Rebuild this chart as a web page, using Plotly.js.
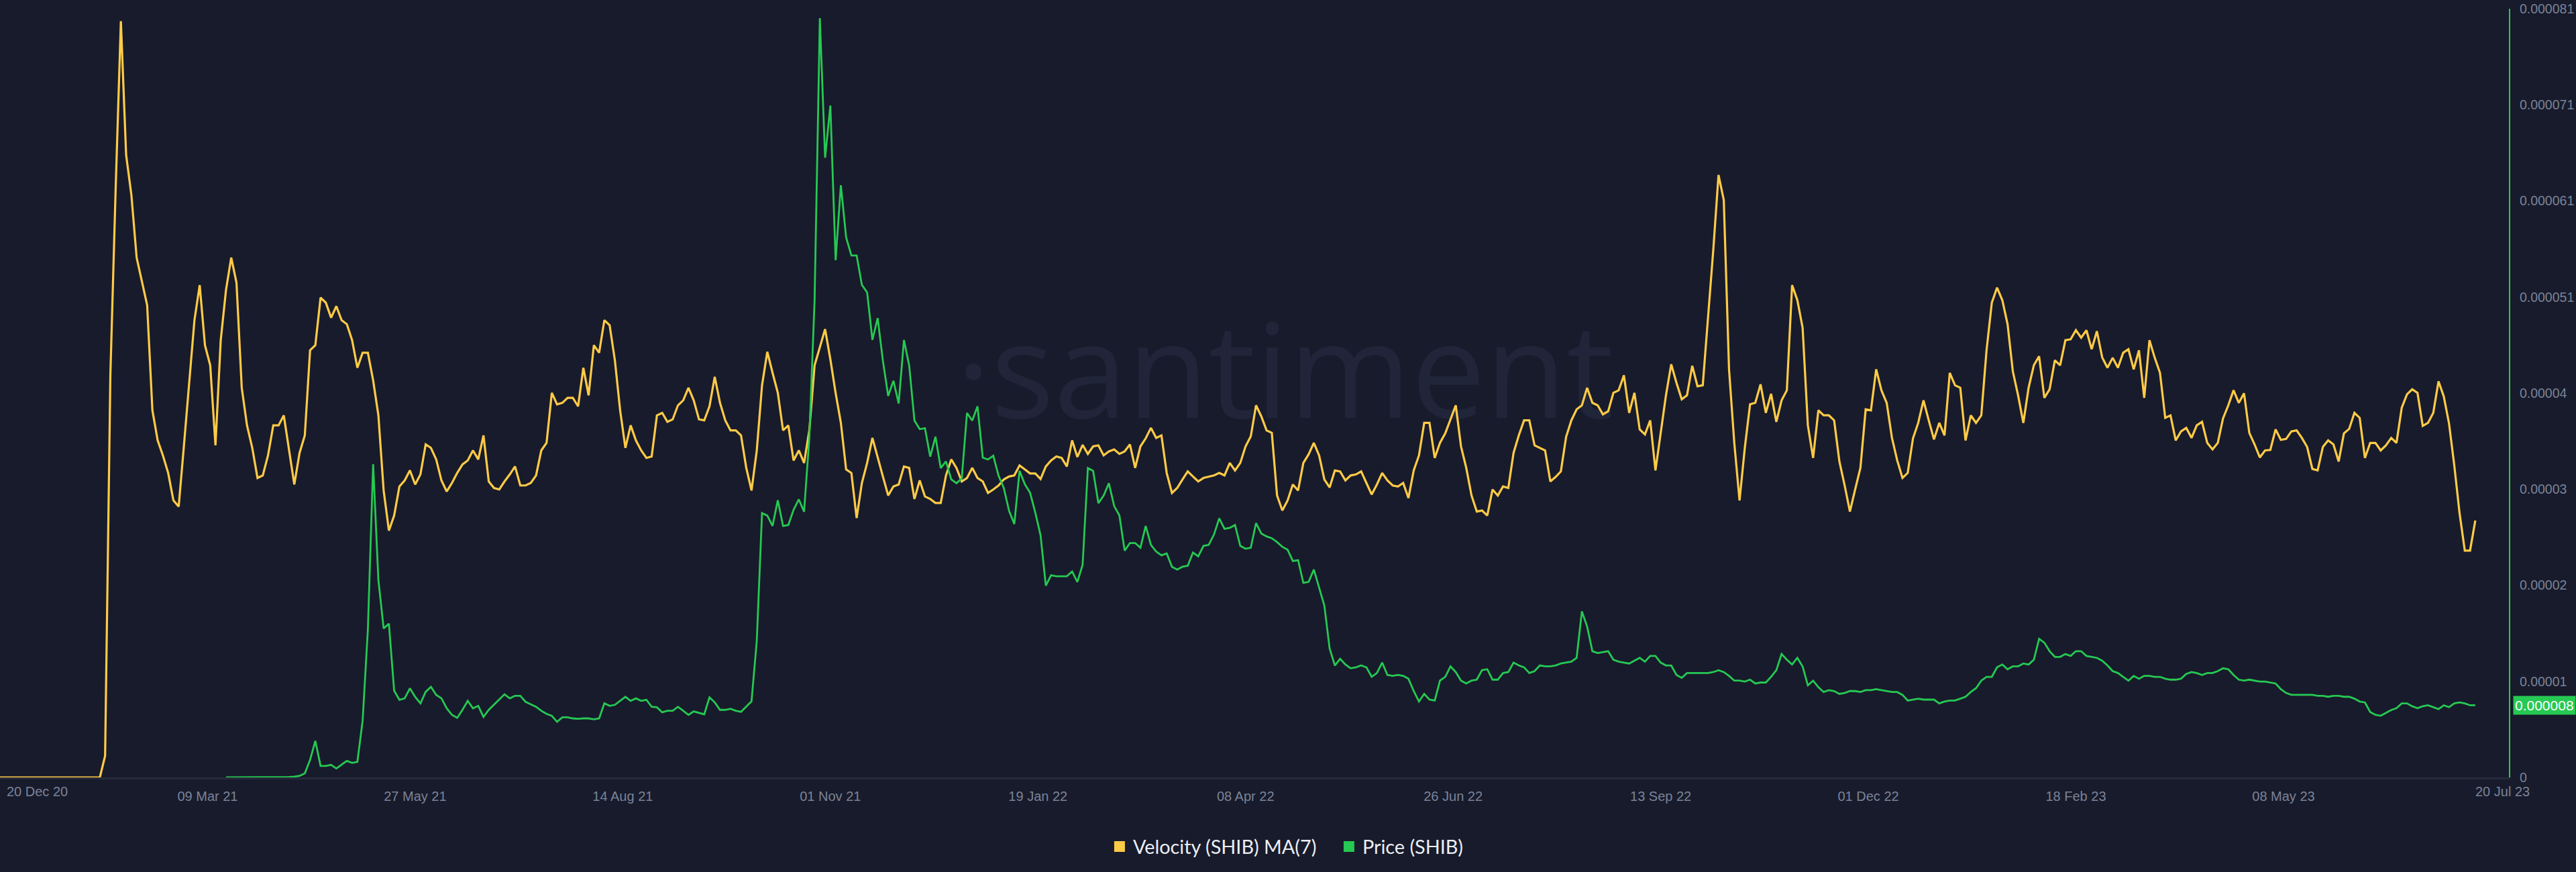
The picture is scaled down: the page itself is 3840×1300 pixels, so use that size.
<!DOCTYPE html>
<html>
<head>
<meta charset="utf-8">
<script src="https://cdn.plot.ly/plotly-3.0.1.min.js"></script>
<style>
  html, body { margin: 0; padding: 0; background: #181b2b; }
  #chart { width: 3840px; height: 1300px; }
</style>
</head>
<body>
<div id="chart"></div>
<script>
// ---------- DATA (one value every 2 days) ----------
// Each segment starts on the date in segmentStarts and steps 2 days.
const segmentStarts = ['2020-12-20', '2021-08-23', '2022-04-26', '2022-12-26'];

// Velocity (SHIB) MA(7) — hidden axis, relative units
const velocityDec20Aug21 = [
  0,0,0,0,0,0,0,0,0,0,0,0,0,0,0,0,0,0,0,0,
  0.043,0.803,1.173,1.510,1.243,1.163,1.038,0.991,0.943,0.733,
  0.673,0.643,0.608,0.553,0.541,0.663,0.783,0.913,0.983,0.863,
  0.823,0.663,0.873,0.973,1.038,0.988,0.778,0.703,0.658,0.598,
  0.603,0.643,0.703,0.703,0.723,0.653,0.585,0.648,0.683,0.853,
  0.863,0.958,0.948,0.918,0.941,0.913,0.905,0.873,0.818,0.848,
  0.848,0.793,0.723,0.573,0.493,0.523,0.581,0.593,0.613,0.585,
  0.605,0.665,0.658,0.635,0.593,0.571,0.588,0.608,0.625,0.633,
  0.653,0.635,0.683,0.591,0.578,0.575,0.591,0.605,0.621,0.583,
  0.583,0.588,0.603,0.653,0.668,0.768,0.745,0.748,0.758,0.758,
  0.741,0.818,0.763,0.863,0.848,0.913,0.903,0.833,0.733,0.658,
  0.703,0.673,0.653
];
const velocityAug21Apr22 = [
  0.638,0.641,0.723,0.728,0.710,0.715,0.743,0.753,0.778,0.753,
  0.715,0.713,0.741,0.800,0.748,0.713,0.693,0.693,0.683,0.618,
  0.573,0.653,0.783,0.850,0.808,0.768,0.693,0.703,0.633,0.653,
  0.628,0.693,0.823,0.861,0.895,0.835,0.768,0.708,0.615,0.608,
  0.518,0.588,0.628,0.678,0.638,0.601,0.563,0.581,0.585,0.621,
  0.618,0.556,0.593,0.561,0.556,0.548,0.548,0.603,0.635,0.618,
  0.591,0.598,0.618,0.598,0.591,0.568,0.575,0.583,0.595,0.601,
  0.603,0.623,0.615,0.607,0.607,0.596,0.621,0.633,0.641,0.638,
  0.621,0.673,0.640,0.664,0.646,0.661,0.663,0.643,0.651,0.655,
  0.646,0.651,0.665,0.618,0.661,0.677,0.698,0.678,0.683,0.608,
  0.568,0.578,0.595,0.611,0.601,0.591,0.598,0.601,0.603,0.608,
  0.603,0.628,0.613,0.628,0.661,0.681,0.743,0.721,0.693,0.688,
  0.563,0.533,0.553
];
const velocityApr22Dec22 = [
  0.585,0.573,0.628,0.645,0.668,0.643,0.595,0.579,0.613,0.611,
  0.593,0.603,0.605,0.611,0.588,0.565,0.585,0.608,0.593,0.583,
  0.581,0.588,0.558,0.613,0.643,0.708,0.708,0.638,0.668,0.687,
  0.715,0.743,0.661,0.618,0.563,0.531,0.533,0.523,0.575,0.563,
  0.581,0.578,0.648,0.683,0.713,0.713,0.663,0.658,0.653,0.591,
  0.600,0.611,0.680,0.713,0.735,0.743,0.778,0.748,0.743,0.725,
  0.731,0.768,0.773,0.803,0.728,0.768,0.695,0.685,0.713,0.613,
  0.688,0.763,0.825,0.788,0.755,0.763,0.822,0.781,0.783,0.913,
  1.053,1.203,1.153,0.815,0.668,0.553,0.658,0.745,0.748,0.785,
  0.728,0.766,0.710,0.753,0.773,0.983,0.953,0.898,0.703,0.638,
  0.733,0.723,0.723,0.713,0.631,0.583,0.531,0.575,0.618,0.735,
  0.733,0.815,0.773,0.748,0.678,0.633,0.598,0.608,0.677,0.708,
  0.753,0.713
];
const velocityDec22Jul23 = [
  0.675,0.708,0.683,0.808,0.783,0.778,0.673,0.723,0.708,0.723,
  0.853,0.948,0.978,0.953,0.905,0.811,0.763,0.708,0.778,0.823,
  0.841,0.758,0.775,0.833,0.823,0.873,0.875,0.893,0.878,0.893,
  0.855,0.891,0.839,0.818,0.838,0.818,0.848,0.855,0.815,0.853,
  0.758,0.873,0.838,0.808,0.718,0.723,0.673,0.691,0.698,0.678,
  0.703,0.710,0.668,0.655,0.668,0.717,0.743,0.773,0.748,0.767,
  0.688,0.665,0.639,0.653,0.654,0.695,0.674,0.676,0.691,0.693,
  0.678,0.660,0.616,0.613,0.660,0.673,0.665,0.631,0.687,0.696,
  0.728,0.718,0.638,0.668,0.668,0.653,0.663,0.678,0.668,0.738,
  0.765,0.775,0.768,0.702,0.708,0.728,0.791,0.761,0.707,0.623,
  0.528,0.453,0.453,0.513
];

// Price (SHIB), in millionths of USD (x 1e-6)
const priceMicroDec20Aug21 = [
  null,null,null,null,null,null,null,null,null,null,
  null,null,null,null,null,null,null,null,null,null,
  null,null,null,null,null,null,null,null,null,null,
  null,null,null,null,null,null,null,null,null,null,
  null,null,null,
  0.01,0.01,0.01,0.01,0.01,0.01,0.01,0.02,0.02,0.02,
  0.03,0.04,0.05,0.08,0.16,0.42,1.85,3.85,1.21,1.21,
  1.32,0.95,1.37,1.74,1.53,1.64,5.96,15.6,33.0,20.8,
  15.7,16.2,9.13,8.18,8.33,9.39,8.49,7.8,9.02,9.55,
  8.70,8.33,7.28,6.59,6.28,7.12,8.07,7.28,7.54,6.38,
  7.12,7.65,8.18,8.76,8.33,8.60,8.60,7.97,7.70,7.44,
  7.02,6.70,6.49,5.86,6.33,6.33,6.22,6.17,6.22,6.22,
  6.12,6.22,7.81,7.54,7.65,8.07,8.49,8.07,8.33,8.07
];
const priceMicroAug21Apr22 = [
  8.18,7.44,7.39,6.86,7.02,7.02,7.44,7.02,6.59,6.96,
  6.80,6.65,8.44,7.91,7.12,7.12,7.23,7.02,6.91,7.44,
  8.02,14.4,27.85,27.59,26.5,29.2,26.5,26.6,28.2,29.3,
  28.0,35.8,50.3,80.0,65.3,70.8,54.5,62.4,56.9,55.0,
  55.0,51.9,51.1,46.1,48.4,43.9,40.2,41.8,39.4,46.1,
  43.4,37.6,36.7,36.8,33.8,35.9,32.6,33.3,31.4,31.0,
  31.5,38.4,37.6,39.1,33.7,33.5,33.9,31.8,30.5,28.1,
  26.7,32.3,30.9,30.0,27.9,25.5,20.2,21.3,21.2,21.2,
  21.2,21.7,20.6,22.4,32.6,32.3,28.9,29.7,31.0,28.6,
  27.6,23.9,24.7,24.7,24.2,26.5,24.5,23.8,23.4,23.6,
  22.2,21.9,22.2,22.3,23.7,23.3,24.4,24.5,25.6,27.3,
  26.2,26.3,26.6,24.4,24.1,24.2,26.8,25.7,25.4,25.2,
  24.8,24.3,24.0
];
const priceMicroApr22Dec22 = [
  22.8,22.9,20.5,20.6,21.9,19.9,18.1,13.6,11.8,12.5,
  11.9,11.5,11.6,11.8,11.6,10.6,11.0,12.1,10.8,10.7,
  10.8,10.7,10.4,9.1,8.0,8.8,8.2,8.1,10.2,10.6,
  11.7,11.1,10.2,9.9,10.2,10.3,11.3,11.4,10.3,10.3,
  11.0,11.1,12.1,11.8,11.6,11.0,11.2,11.8,11.7,11.7,
  11.8,12.0,12.1,12.2,12.6,17.5,15.9,13.3,13.1,13.2,
  13.3,12.4,12.2,12.1,12.0,12.3,12.6,12.2,12.8,12.8,
  12.1,11.8,11.8,10.8,10.5,11.0,11.0,11.0,11.0,11.0,
  11.1,11.3,11.1,10.7,10.2,10.2,10.1,10.3,9.9,10.0,
  10.0,10.6,11.3,13.0,12.4,11.9,12.6,11.7,9.7,10.2,
  9.5,9.0,9.2,9.1,8.8,8.9,9.1,9.1,9.0,9.2,
  9.2,9.3,9.2,9.1,9.0,9.0,8.7,8.1,8.2,8.3,
  8.2,8.2
];
const priceMicroDec22Jul23 = [
  8.2,7.8,8.0,8.1,8.1,8.3,8.5,9.0,9.4,10.2,
  10.6,10.6,11.6,11.9,11.4,11.7,11.7,12.0,11.9,12.4,
  14.6,14.2,13.3,12.7,12.7,13.0,12.8,13.3,13.3,12.8,
  12.7,12.6,12.3,11.8,11.2,11.0,10.6,10.2,10.7,10.4,
  10.7,10.7,10.6,10.6,10.4,10.3,10.3,10.4,10.9,11.1,
  11.0,10.8,11.0,11.0,11.2,11.5,11.4,10.8,10.3,10.2,
  10.3,10.2,10.1,10.1,10.0,9.9,9.3,8.9,8.7,8.7,
  8.7,8.7,8.7,8.6,8.6,8.5,8.6,8.6,8.5,8.5,
  8.3,8.0,7.9,6.9,6.6,6.5,6.8,7.1,7.3,7.8,
  7.8,7.5,7.3,7.5,7.6,7.4,7.2,7.6,7.4,7.8,
  7.9,7.8,7.6,7.6
];

// Axis labels
const xTickDates  = ['2021-03-09','2021-05-27','2021-08-14','2021-11-01','2022-01-19','2022-04-08',
                     '2022-06-26','2022-09-13','2022-12-01','2023-02-18','2023-05-08'];
const xTickLabels = ['09 Mar 21','27 May 21','14 Aug 21','01 Nov 21','19 Jan 22','08 Apr 22',
                     '26 Jun 22','13 Sep 22','01 Dec 22','18 Feb 23','08 May 23'];
const xEdgeDates  = ['2020-12-20', '2023-07-20'];
const xEdgeLabels = ['20 Dec 20', '20 Jul 23'];
const priceTickLabels = ['0','0.00001','0.00002','0.00003','0.00004','0.000051','0.000061','0.000071','0.000081'];
const priceAxisMax = 0.000081;
const velocityAxisMax = 1.535;
const seriesNames = ['Velocity (SHIB) MA(7)', 'Price (SHIB)'];

// ---------- BUILD ----------
const BG = '#181b2b';
const VEL_COLOR = '#ffcb47';
const PRICE_COLOR = '#26c953';
const TICK_COLOR = '#7a8399';

function stepDates(startISO, n, stepDays) {
  const t0 = Date.parse(startISO + 'T00:00:00Z');
  const out = [];
  for (let i = 0; i < n; i++) out.push(new Date(t0 + i * stepDays * 86400000).toISOString().slice(0, 10));
  return out;
}
const velSegs = [velocityDec20Aug21, velocityAug21Apr22, velocityApr22Dec22, velocityDec22Jul23];
const priceSegs = [priceMicroDec20Aug21, priceMicroAug21Apr22, priceMicroApr22Dec22, priceMicroDec22Jul23];

let velX = [], velY = [], priceX = [], priceY = [];
velSegs.forEach((seg, i) => { velX = velX.concat(stepDates(segmentStarts[i], seg.length, 2)); velY = velY.concat(seg); });
priceSegs.forEach((seg, i) => {
  priceX = priceX.concat(stepDates(segmentStarts[i], seg.length, 2));
  priceY = priceY.concat(seg.map(v => v == null ? null : v * 1e-6));
});
const lastPrice = priceY[priceY.length - 1];

const priceTickVals = priceTickLabels.map((_, k) => priceAxisMax * k / (priceTickLabels.length - 1));

const data = [
  { // watermark beneath lines
    type: 'scatter', mode: 'text', x: ['2022-04-23'], y: [0.784], text: ['·santiment'],
    textposition: 'middle center',
    textfont: { family: 'Open Sans', size: 197, color: '#21253a' },
    hoverinfo: 'skip', showlegend: false, xaxis: 'x', yaxis: 'y'
  },
  {
    type: 'scatter', mode: 'lines', name: seriesNames[0], x: velX, y: velY,
    line: { color: VEL_COLOR, width: 3.2 }, yaxis: 'y', showlegend: false, hoverinfo: 'skip'
  },
  {
    type: 'scatter', mode: 'lines', name: seriesNames[1], x: priceX, y: priceY,
    line: { color: PRICE_COLOR, width: 2.8 }, yaxis: 'y2', showlegend: false, hoverinfo: 'skip',
    connectgaps: false
  },
  { type: 'scatter', mode: 'markers', name: seriesNames[0], x: [null], y: [null],
    marker: { symbol: 'square', size: 19, color: VEL_COLOR }, showlegend: true },
  { type: 'scatter', mode: 'markers', name: seriesNames[1], x: [null], y: [null],
    marker: { symbol: 'square', size: 19, color: PRICE_COLOR }, showlegend: true, yaxis: 'y2' }
];

const tickFont = { family: 'Liberation Sans, Arial, sans-serif', size: 20, color: TICK_COLOR };

const layout = {
  width: 3840, height: 1300,
  paper_bgcolor: BG, plot_bgcolor: BG,
  margin: { l: 0, r: 100, t: 13, b: 141, pad: 0 },
  showlegend: true,
  legend: {
    orientation: 'h', xref: 'container', yref: 'container',
    x: 0.4294, xanchor: 'left', y: 0.029, yanchor: 'middle',
    bgcolor: 'rgba(0,0,0,0)',
    entrywidth: 297, entrywidthmode: 'pixels',
    font: { family: 'Lato, sans-serif', size: 28.8, color: '#eceef4' },
    itemclick: false, itemdoubleclick: false
  },
  xaxis: {
    type: 'date', range: ['2020-12-20', '2023-08-01 19:00'],
    tickmode: 'array', tickvals: xTickDates, ticktext: xTickLabels,
    showgrid: false, zeroline: false, showline: true, linecolor: '#262a3b', linewidth: 3,
    ticks: '', tickfont: tickFont, ticklabelstandoff: 8, fixedrange: true
  },
  yaxis: { range: [0, velocityAxisMax], visible: false, fixedrange: true },
  yaxis2: {
    overlaying: 'y', side: 'right', range: [0, priceAxisMax],
    tickmode: 'array', tickvals: priceTickVals, ticktext: priceTickLabels,
    showgrid: false, zeroline: false, showline: true, linecolor: PRICE_COLOR, linewidth: 2,
    ticks: '', tickfont: Object.assign({}, tickFont, { size: 19.5 }), ticklabelstandoff: 10, fixedrange: true
  },
  annotations: [
    { xref: 'x', yref: 'paper', x: xEdgeDates[0], y: 0, xanchor: 'left', yanchor: 'middle',
      xshift: 8, yshift: -21, text: xEdgeLabels[0], showarrow: false, font: tickFont },
    { xref: 'x', yref: 'paper', x: xEdgeDates[1], y: 0, xanchor: 'left', yanchor: 'middle',
      xshift: -2, yshift: -21, text: xEdgeLabels[1], showarrow: false, font: tickFont },
    { xref: 'paper', yref: 'y2', x: 1, y: lastPrice, xanchor: 'left', yanchor: 'middle',
      xshift: 6, text: lastPrice.toFixed(6), showarrow: false, bgcolor: PRICE_COLOR, borderpad: 2,
      font: { family: 'Liberation Sans, Arial, sans-serif', size: 21, color: '#ffffff' } }
  ],
  hovermode: false
};

Plotly.newPlot('chart', data, layout, { displayModeBar: false, staticPlot: true });
</script>
</body>
</html>
